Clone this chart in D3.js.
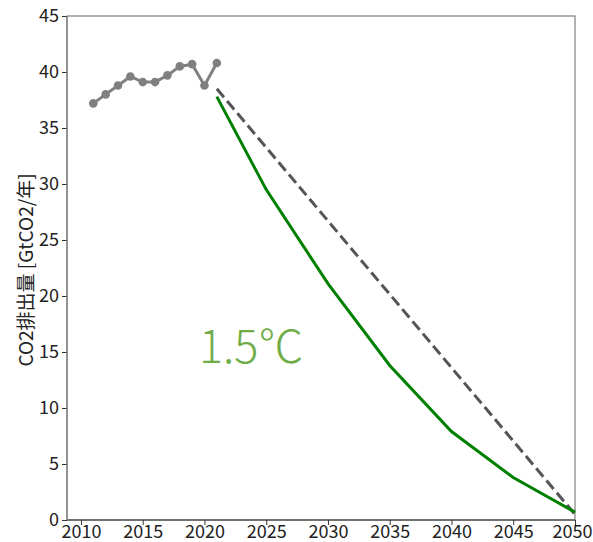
<!DOCTYPE html>
<html><head><meta charset="utf-8">
<script src="https://cdn.jsdelivr.net/npm/d3@7"></script>
<style>body{margin:0;background:#fff;} svg{display:block;}</style>
</head><body>
<svg id="chart" width="593" height="542"></svg>
<script>
const histYears = [2011,2012,2013,2014,2015,2016,2017,2018,2019,2020,2021];
const histValues = [37.2,38.0,38.8,39.6,39.1,39.1,39.7,40.5,40.7,38.8,40.8];
const pathYears = [2021,2025,2030,2035,2040,2045,2050];
const pathValues = [37.8,29.5,21.1,13.8,7.9,3.8,0.7];
const linearYears = [2021,2050];
const linearValues = [38.5,0.5];
const xTicks = [2010,2015,2020,2025,2030,2035,2040,2045,2050];
const yTicks = [0,5,10,15,20,25,30,35,40,45];
const yLabel = "CO2排出量 [GtCO2/年]";
const annotation = "1.5℃";

const font = "'Noto Sans CJK JP','Noto Sans',sans-serif";
const svg = d3.select("#chart");
const m = {left:67, right:575, top:16, bottom:520};
const x = d3.scaleLinear().domain([2008.87,2050]).range([m.left,m.right]);
const y = d3.scaleLinear().domain([0,45]).range([m.bottom,m.top]);

// frame
svg.append("rect").attr("x",m.left).attr("y",m.top).attr("width",m.right-m.left).attr("height",m.bottom-m.top)
  .attr("fill","none").attr("stroke","#808080").attr("stroke-width",1.2);

const xAxis = svg.append("g").attr("transform",`translate(0,${m.bottom})`)
  .call(d3.axisBottom(x).tickValues(xTicks).tickFormat(d3.format("d")).tickSize(5).tickSizeOuter(0));
const yAxis = svg.append("g").attr("transform",`translate(${m.left},0)`)
  .call(d3.axisLeft(y).tickValues(yTicks).tickSize(5).tickSizeOuter(0));
[xAxis,yAxis].forEach(a=>{
  a.select(".domain").remove();
  a.selectAll(".tick line").attr("stroke","#333");
  a.selectAll("text").attr("font-family",font).attr("font-size",18).attr("fill","#222");
});
xAxis.selectAll("text").attr("y",5).attr("dy","0.72em");
xAxis.selectAll(".tick text").filter(d=>d===2050).attr("dx",-3);
yAxis.selectAll("text").attr("x",-8);
// axis lines
svg.append("line").attr("x1",m.left).attr("x2",m.right).attr("y1",m.bottom).attr("y2",m.bottom).attr("stroke","#333").attr("stroke-width",1.2);
svg.append("line").attr("x1",m.left).attr("x2",m.left).attr("y1",m.top).attr("y2",m.bottom).attr("stroke","#808080").attr("stroke-width",1.2);

svg.append("text").attr("transform",`translate(24,${(m.top+m.bottom)/2+2}) rotate(-90)`)
  .attr("text-anchor","middle").attr("dominant-baseline","central").attr("font-family",font).attr("font-size",19).attr("fill","#222").text(yLabel);

const line = d3.line().x(d=>x(d[0])).y(d=>y(d[1]));

svg.append("path").datum(linearYears.map((yr,i)=>[yr,linearValues[i]]))
  .attr("d",line).attr("fill","none").attr("stroke","#555").attr("stroke-width",3).attr("stroke-dasharray","11,5");

svg.append("path").datum(pathYears.map((yr,i)=>[yr,pathValues[i]]))
  .attr("d",line).attr("fill","none").attr("stroke","#008000").attr("stroke-width",3);

const hist = histYears.map((yr,i)=>[yr,histValues[i]]);
svg.append("path").datum(hist).attr("d",line).attr("fill","none").attr("stroke","#808080").attr("stroke-width",3);
svg.selectAll("circle.h").data(hist).enter().append("circle")
  .attr("cx",d=>x(d[0])).attr("cy",d=>y(d[1])).attr("r",4.3).attr("fill","#808080");

svg.append("text").attr("x",199).attr("y",363).attr("font-family",font).attr("font-size",45)
  .attr("font-weight",300).attr("fill","#70ad47").text(annotation);
</script>
</body></html>
